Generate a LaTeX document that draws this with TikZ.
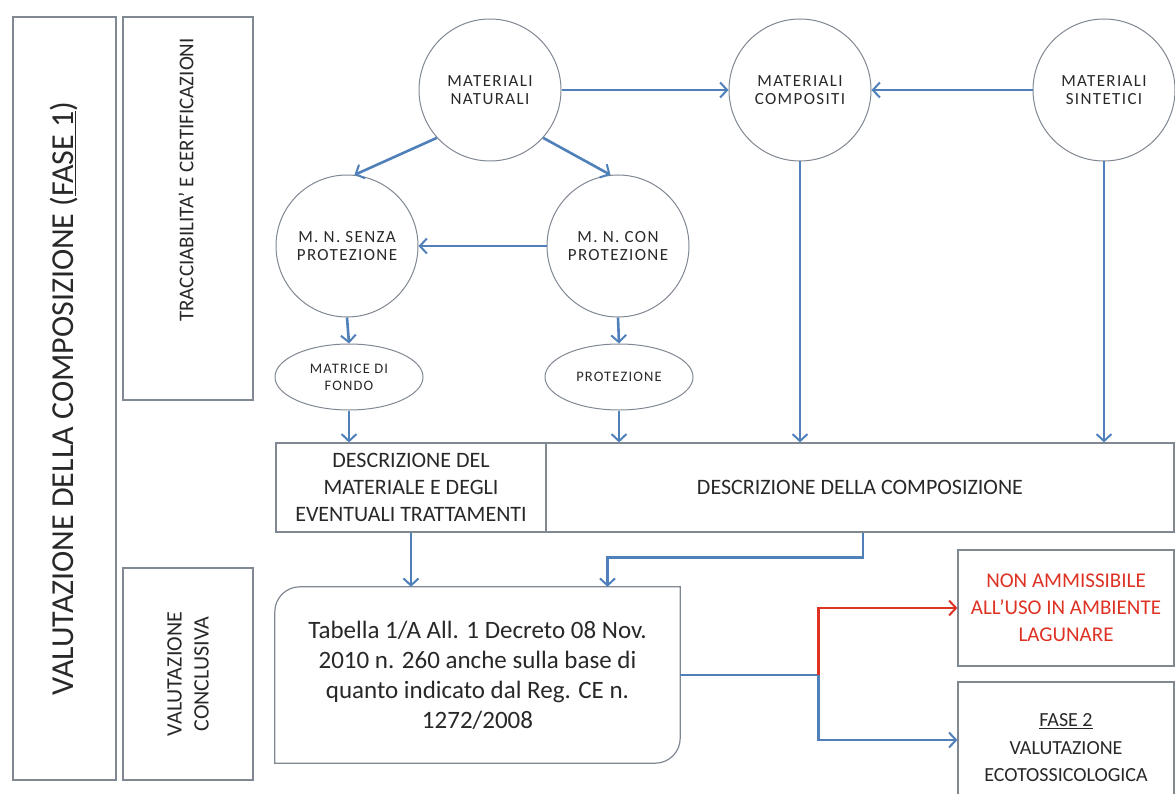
\documentclass[tikz,border=0pt]{standalone}
\usepackage{fontspec}
\setmainfont{Carlito}
\newfontfamily\circfont[LetterSpace=8]{Carlito}
\usetikzlibrary{calc,shapes.geometric,arrows.meta}
\definecolor{flowblue}{RGB}{80,128,186}
\definecolor{linegray}{RGB}{128,136,146}
\definecolor{stopred}{RGB}{222,50,36}
\definecolor{txtgray}{RGB}{40,40,40}
\tikzset{x=1pt, y=-1pt,
	side box/.style={draw=linegray, line width=1.2pt, inner sep=0pt, align=center, text=txtgray},
	material/.style={circle, draw=linegray, line width=1pt, minimum size=142pt, inner sep=0pt,
		align=center, text=txtgray, font=\circfont\fontsize{17}{18}\selectfont},
	part/.style={ellipse, draw=linegray, line width=1pt, minimum width=148pt, minimum height=66pt,
		inner sep=0pt, align=center, text=txtgray, font=\circfont\fontsize{14.5}{17}\selectfont},
	desc box/.style={draw=linegray, line width=1.2pt, inner sep=0pt, align=center, text=txtgray,
		font=\fontsize{22}{27}\selectfont},
	flow/.style={draw=flowblue, line width=2.6pt, -{Straight Barb[length=7pt,width=15pt,line width=2pt]}},
	flow plain/.style={draw=flowblue, line width=2.6pt},
	flow stop/.style={draw=stopred, line width=2.6pt, -{Straight Barb[length=7pt,width=15pt,line width=2pt]}}
}
\begin{document}
\begin{tikzpicture}
\useasboundingbox (0,0) rectangle (1175,794);
\clip (0,0) rectangle (1175,794);

% colonna sinistra
\node[side box, rotate=90, minimum width=763pt, minimum height=103pt, font=\fontsize{32}{38}\selectfont]
	(Fase1) at (64.5,398.5) {VALUTAZIONE DELLA COMPOSIZIONE (\underline{FASE 1})};
\node[side box, minimum width=130pt, minimum height=383pt] (Trac) at (188,208.5) {};
\node[rotate=90, text=txtgray, font=\fontsize{21}{25}\selectfont] (TracText) at (186,180)
	{TRACCIABILITA’ E CERTIFICAZIONI};
\node[side box, rotate=90, minimum width=212pt, minimum height=130pt, font=\fontsize{22}{27}\selectfont]
	(Concl) at (188,674) {VALUTAZIONE\\CONCLUSIVA};

% materiali
\node[material] (Nat) at (490,90) {MATERIALI\\NATURALI};
\node[material] (Comp) at (800,90) {MATERIALI\\COMPOSITI};
\node[material] (Sint) at (1104,90) {MATERIALI\\SINTETICI};
\node[material] (Senza) at (347,246) {M. N. SENZA\\PROTEZIONE};
\node[material] (Con) at (618,246) {M. N. CON\\PROTEZIONE};
\node[part] (Matrice) at (349,377) {MATRICE DI\\FONDO};
\node[part] (Prot) at (619,377) {PROTEZIONE};

% descrizioni
\node[desc box, minimum width=270pt, minimum height=89pt] (DescMat) at (411,487.5)
	{DESCRIZIONE DEL\\MATERIALE E DEGLI\\EVENTUALI TRATTAMENTI};
\node[desc box, minimum width=628pt, minimum height=89pt] (DescComp) at (860,487.5)
	{DESCRIZIONE DELLA COMPOSIZIONE};

% valutazione
\node[minimum width=405pt, minimum height=176pt, align=center, text=txtgray,
	font=\fontsize{25}{30}\selectfont] (Tab) at (477.5,675)
	{Tabella 1/A All. 1 Decreto 08 Nov.\\2010 n. 260 anche sulla base di\\quanto indicato dal Reg. CE n.\\1272/2008};
\draw[draw=linegray, line width=1.2pt] ($(Tab.north west)+(0,25)$) arc[start angle=180, end angle=90, radius=25pt]
	-- (Tab.north east) -- ($(Tab.south east)+(0,-25)$) arc[start angle=0, end angle=-90, radius=25pt]
	-- (Tab.south west) -- cycle;
\node[desc box, minimum width=216pt, minimum height=116pt, text=stopred, font=\fontsize{21}{27}\selectfont]
	(NonAmm) at (1066,608) {NON AMMISSIBILE\\ALL’USO IN AMBIENTE\\LAGUNARE};
\node[desc box, minimum width=216pt, minimum height=132pt, font=\fontsize{20}{27.5}\selectfont]
	(Fase2) at (1066,748) {\underline{FASE 2}\\VALUTAZIONE\\ECOTOSSICOLOGICA};

% frecce
\draw[flow] (Nat.east) -- (Comp.west);
\draw[flow] (Sint.west) -- (Comp.east);
\draw[flow] (Nat.222) -- (Senza.84);
\draw[flow] (Nat.318) -- (Con.96);
\draw[flow] (Con.west) -- (Senza.east);
\draw[flow] (Senza.south) -- (Matrice.north);
\draw[flow] (Con.south) -- (Prot.north);
\draw[flow] (Matrice.south) -- (Matrice.south |- DescMat.north);
\draw[flow] (Prot.south) -- (Prot.south |- DescComp.north);
\draw[flow] (Comp.south) -- (Comp.south |- DescComp.north);
\draw[flow] (Sint.south) -- (Sint.south |- DescComp.north);
\draw[flow] (DescMat.south) -- (DescMat.south |- Tab.north);
\draw[flow] ([xshift=3pt]DescComp.south) -- ++(0,25) -| ($(Tab.north)+(130,0)$);
\coordinate (Split) at ($(Tab.east)+(138,0)$);
\draw[flow plain] (Tab.east) -- (Split);
\draw[flow stop] (Split) |- (NonAmm.west);
\draw[flow] (Split) |- ($(Fase2.west)+(0,-8)$);
\end{tikzpicture}
\end{document}
